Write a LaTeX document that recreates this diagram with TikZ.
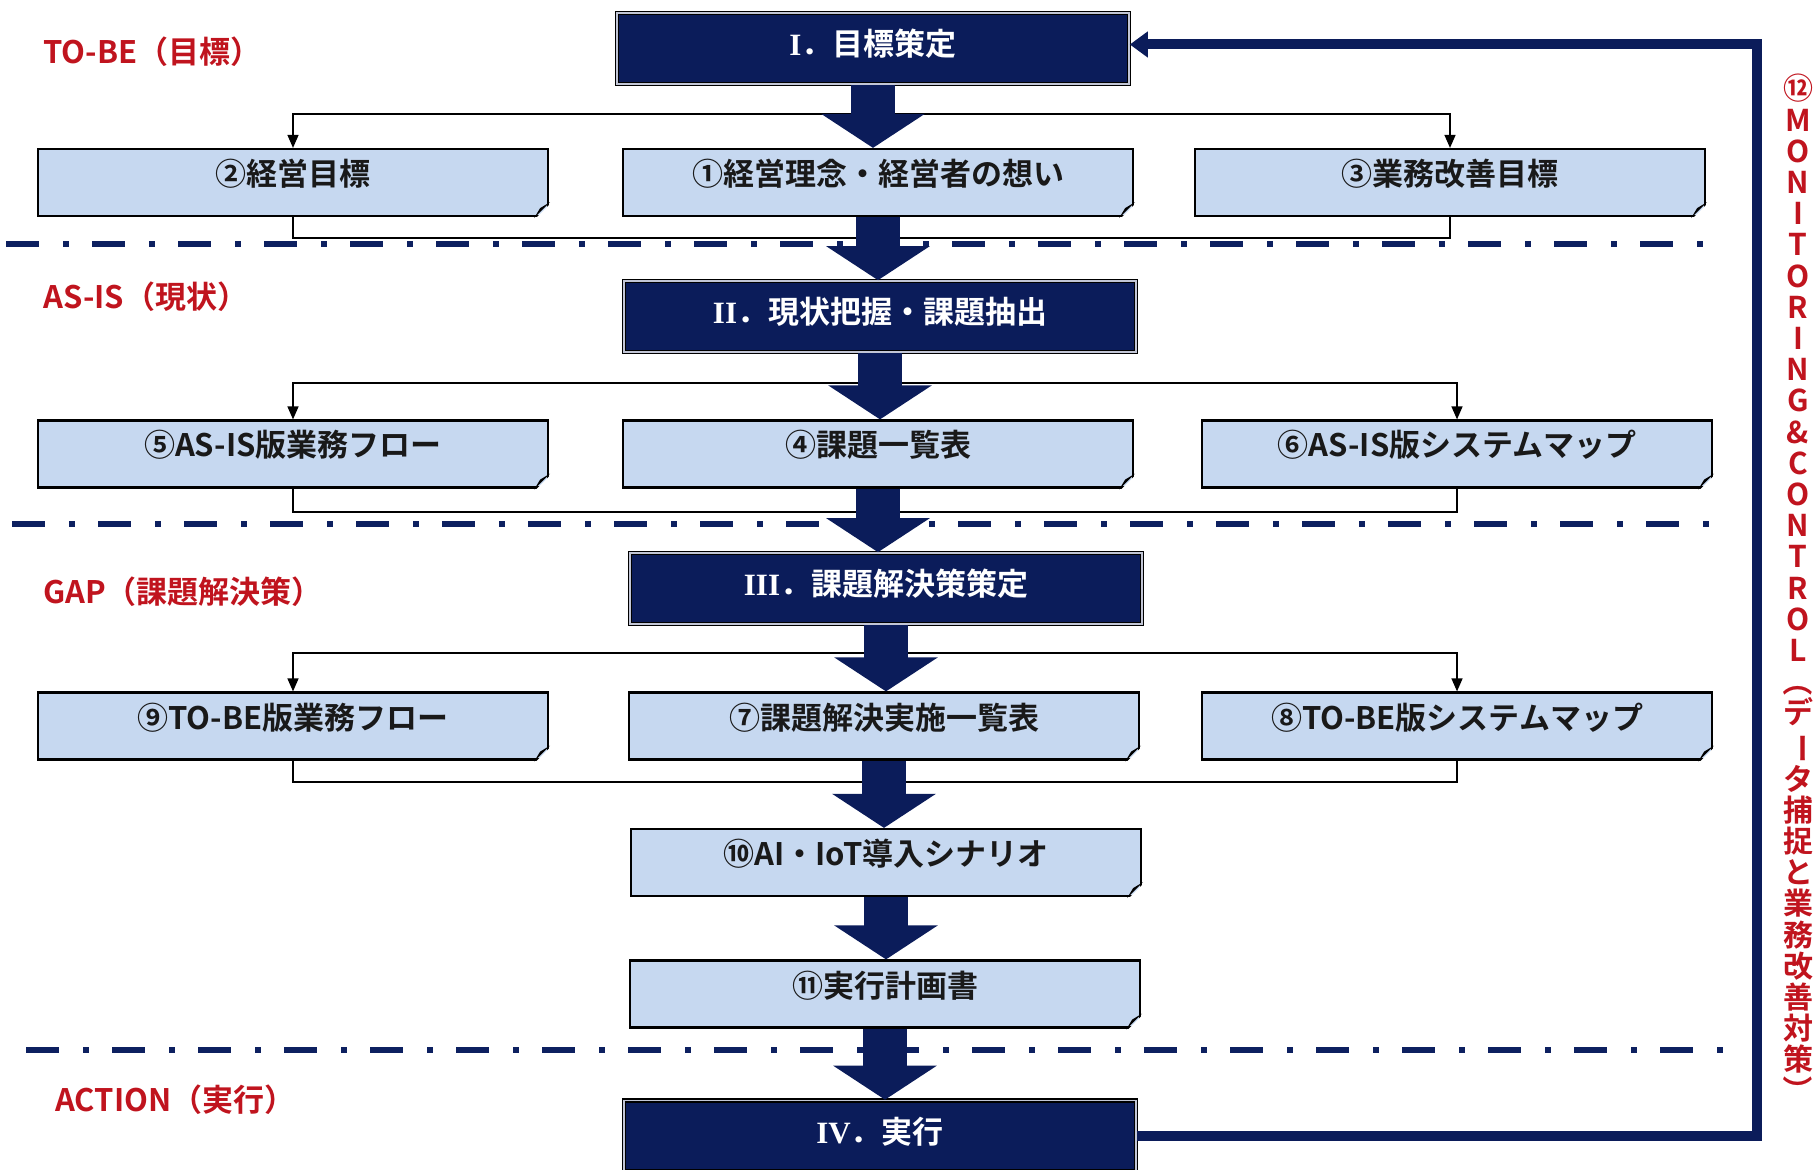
\documentclass[tikz,border=0pt]{standalone}
\usepackage{fontspec}
\setmainfont{Noto Sans CJK JP}[BoldFont={Noto Sans CJK JP Bold}]
\newfontfamily\rmnum{Liberation Serif}
\usepackage{graphicx}
\usetikzlibrary{arrows.meta,calc}
\definecolor{navy}{HTML}{0B1C5A}
\definecolor{lblue}{HTML}{C6D8F0}
\definecolor{redtx}{HTML}{C0141E}
\definecolor{dashnavy}{HTML}{0D2060}
\newcommand{\rn}[1]{{\rmnum\bfseries #1}}
\begin{document}
\begin{tikzpicture}[x=0.5pt,y=-0.5pt,
  txt/.style={font=\bfseries\fontsize{15.5pt}{18pt}\selectfont},
  docbox/.style={draw=black, line width=1.1pt, fill=lblue, minimum width=255pt, minimum height=33.5pt, inner sep=0pt, txt, text=black!90, text height=12pt, text depth=9pt},
  darkbox/.style={draw=black, line width=0.8pt, double=white!75!navy, double distance=0.8pt, fill=navy, minimum width=256pt, minimum height=35.5pt, inner sep=0pt, txt, text=white, text height=12pt, text depth=5pt},
  conn/.style={draw=black, line width=0.7pt},
  connarr/.style={conn, {Triangle[width=5.5pt,length=6.5pt]}-{Triangle[width=5.5pt,length=6.5pt]}},
  bigarrow/.style={draw=navy, line width=22pt, -{Triangle[width=51pt,length=17pt]}},
  sepline/.style={draw=dashnavy, line width=3pt, dash pattern=on 16.5pt off 12pt on 3pt off 11.5pt},
  fbline/.style={draw=navy, line width=5pt, line join=miter, -{Triangle[width=12.5pt,length=9pt]}},
  phase/.style={text=redtx, txt, anchor=west, inner sep=0pt},
  vtext/.style={text=redtx, font=\bfseries\fontsize{15pt}{15.6pt}\selectfont, align=center, inner sep=0pt}
]
\useasboundingbox (0,0) rectangle (1819,1170);
\clip (0,0) rectangle (1819,1170);

% junction coordinates
\coordinate (t1) at (878,114);
\coordinate (b1) at (878,238);
\coordinate (t2) at (878,383);
\coordinate (b2) at (878,512);
\coordinate (t3) at (884,653);
\coordinate (b3) at (884,782);

% separator lines
\coordinate (L1a) at (6,244);  \coordinate (L1b) at (1717,244);
\coordinate (L2a) at (12,524); \coordinate (L2b) at (1723,524);
\coordinate (L3a) at (26,1050); \coordinate (L3b) at (1740,1050);

% boxes
\node[darkbox] (s1) at (873,48.5) {\rn{I}．目標策定};
\node[docbox] (d2) at (293,182.5) {②経営目標};
\node[docbox] (d1) at (878,182.5) {①経営理念・経営者の想い};
\node[docbox] (d3) at (1450,182.5) {③業務改善目標};
\node[darkbox] (s2) at (880,316.5) {\rn{II}．現状把握・課題抽出};
\node[docbox] (d5) at (293,454) {⑤AS-IS版業務フロー};
\node[docbox] (d4) at (878,454) {④課題一覧表};
\node[docbox] (d6) at (1457,454) {⑥AS-IS版システムマップ};
\node[darkbox] (s3) at (886,588.5) {\rn{III}．課題解決策策定};
\node[docbox] (d9) at (293,726) {⑨TO-BE版業務フロー};
\node[docbox] (d7) at (884,726) {⑦課題解決実施一覧表};
\node[docbox] (d8) at (1457,726) {⑧TO-BE版システムマップ};
\node[docbox] (d10) at (886,862.5) {⑩AI・IoT導入シナリオ};
\node[docbox] (d11) at (885,994) {⑪実行計画書};
\node[darkbox] (s4) at (880,1136) {\rn{IV}．実行};

% thin connectors
\draw[connarr] (d2.north) |- (t1) -| (d3.north);
\draw[conn] (d2.south) |- (b1) -| (d3.south);
\draw[connarr] (d5.north) |- (t2) -| (d6.north);
\draw[conn] (d5.south) |- (b2) -| (d6.south);
\draw[connarr] (d9.north) |- (t3) -| (d8.north);
\draw[conn] (d9.south) |- (b3) -| (d8.south);

% separators
\draw[sepline] (L1a) -- (L1b);
\draw[sepline] (L2a) -- (L2b);
\draw[sepline] (L3a) -- (L3b);

% folded corners
\foreach \n in {d1,d2,d3,d4,d5,d6,d7,d8,d9,d10,d11}{
  \fill[white] ($(\n.south east)+(3,3)$) -- ($(\n.south east)+(-15,3)$) -- ($(\n.south east)+(3,-15)$) -- cycle;
  \fill[black] ($(\n.south east)+(-15,1)$) -- ($(\n.south east)+(1,-15)$) -- ($(\n.south east)+(-9,-9)$) -- cycle;
}

% big flow arrows
\draw[bigarrow] (s1.south) -- (s1.south |- d1.north);
\draw[bigarrow] (d1.south) -- (d1.south |- s2.north);
\draw[bigarrow] (s2.south) -- (s2.south |- d4.north);
\draw[bigarrow] (d4.south) -- (d4.south |- s3.north);
\draw[bigarrow] (s3.south) -- (s3.south |- d7.north);
\draw[bigarrow] (d7.south) -- (d7.south |- d10.north);
\draw[bigarrow] (d10.south) -- (d10.south |- d11.north);
\draw[bigarrow] (d11.south) -- (d11.south |- s4.north);

% feedback loop
\coordinate (fbc) at (1757,600);
\coordinate (s1in) at ($(s1.east)+(0,-4)$);
\draw[fbline] (s4.east) -| (fbc) |- (s1in);

% phase labels
\node[phase] (ph1) at (43,52) {TO-BE（目標）};
\node[phase] (ph2) at (43,297) {AS-IS（現状）};
\node[phase] (ph3) at (43,592) {GAP（課題解決策）};
\node[phase] (ph4) at (55,1100) {ACTION（実行）};

% vertical monitoring text
\node[vtext] (mon) at (1798,590) {⑫\\M\\O\\N\\I\\T\\O\\R\\I\\N\\G\\\&\\C\\O\\N\\T\\R\\O\\L\\\rotatebox[origin=c]{-90}{（}\\デ\\\rotatebox[origin=c]{-90}{ー}\\タ\\捕\\捉\\と\\業\\務\\改\\善\\対\\策\\\rotatebox[origin=c]{-90}{）}};
\end{tikzpicture}
\end{document}
